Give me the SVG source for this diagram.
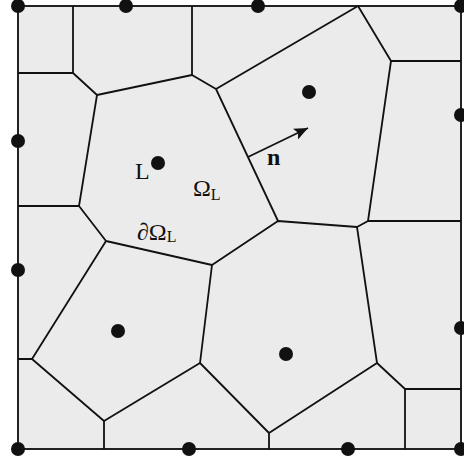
<svg xmlns="http://www.w3.org/2000/svg" width="464" height="461" viewBox="0 0 464 461">
<style>
.cell{fill:none;stroke:#111;stroke-width:1.8;stroke-linejoin:round}
.dot{fill:#111}
.t{font-family:"Liberation Serif","Times New Roman",serif;fill:#111}
</style>
<defs>
<marker id="ah" markerUnits="userSpaceOnUse" markerWidth="16" markerHeight="12" refX="14" refY="6" orient="auto">
<path d="M0,0 L14,6 L0,12 L3,6 Z" fill="#111"/>
</marker>
</defs>
<rect x="0" y="0" width="464" height="461" fill="#fff"/>
<rect id="domain" x="18" y="6" width="443" height="443" fill="#ebebeb" stroke="#222" stroke-width="2"/>
<g id="edges" class="cell">
<path d="M73,6 V73 H18"/>
<path d="M73,73 L97,95 L192,75 V6"/>
<path d="M192,75 L216,89 L358,6"/>
<path d="M216,89 L278,221"/>
<path d="M97,95 L79,206 H18"/>
<path d="M79,206 L106,241 L212,265 L278,221 L357,227 L368,221 H461"/>
<path d="M368,221 L391,61 L358,6"/>
<path d="M391,61 H461"/>
<path d="M106,241 L32,359 H18"/>
<path d="M32,359 L104,421 V449"/>
<path d="M104,421 L200,363 L212,265"/>
<path d="M200,363 L269,433 V449"/>
<path d="M269,433 L377,363 L357,227"/>
<path d="M377,363 L405,389 H461"/>
<path d="M405,389 V449"/>
</g>
<g id="boundary-points" class="dot">
<circle cx="18" cy="6" r="7"/>
<circle cx="126" cy="6" r="7"/>
<circle cx="258" cy="6" r="7"/>
<circle cx="461" cy="6" r="7"/>
<circle cx="18" cy="141" r="7"/>
<circle cx="461" cy="115" r="7"/>
<circle cx="18" cy="270" r="7"/>
<circle cx="461" cy="328" r="7"/>
<circle cx="18" cy="449" r="7"/>
<circle cx="189" cy="449" r="7"/>
<circle cx="348" cy="449" r="7"/>
<circle cx="461" cy="449" r="7"/>
</g>
<g id="node-L">
<circle class="dot" cx="158" cy="163" r="7"/>
<text class="t" x="135" y="179" font-size="24">L</text>
<text class="t" x="193" y="196" font-size="24">Ω<tspan font-size="16" dy="4">L</tspan></text>
<text class="t" x="137" y="240" font-size="24">∂Ω<tspan font-size="16" dy="2">L</tspan></text>
</g>
<g id="node-NE"><circle class="dot" cx="309" cy="92" r="7"/></g>
<g id="node-SW"><circle class="dot" cx="118" cy="331" r="7"/></g>
<g id="node-SE"><circle class="dot" cx="286" cy="354" r="7"/></g>
<g id="normal">
<line x1="248" y1="157" x2="308" y2="128" stroke="#111" stroke-width="1.8" marker-end="url(#ah)"/>
<text class="t" x="267" y="165" font-size="24" font-weight="bold">n</text>
</g>
</svg>
